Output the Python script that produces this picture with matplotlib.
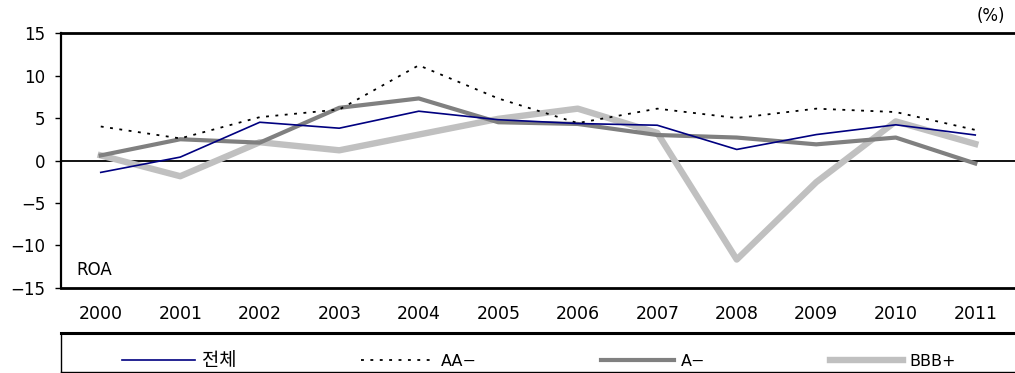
import matplotlib
matplotlib.use("Agg")
import matplotlib.pyplot as plt
from matplotlib.lines import Line2D

plt.rcParams['font.family'] = ['DejaVu Sans', 'Noto Sans CJK KR']
plt.rcParams['axes.unicode_minus'] = True

years = ['2000', '2001', '2002', '2003', '2004', '2005',
         '2006', '2007', '2008', '2009', '2010', '2011']

# ROA by rating group (%)
total = [-1.4, 0.4, 4.5, 3.8, 5.8, 4.8, 4.35, 4.15, 1.3, 3.05, 4.2, 3.0]
aa_minus = [4.0, 2.6, 5.1, 6.0, 11.2, 7.3, 4.4, 6.1, 5.0, 6.1, 5.7, 3.6]
a_minus = [0.6, 2.5, 2.1, 6.2, 7.3, 4.5, 4.3, 3.0, 2.7, 1.9, 2.7, -0.35]
bbb_plus = [0.6, -1.85, 2.15, 1.2, 3.05, 4.9, 6.1, 3.25, -11.65, -2.55, 4.6, 1.95]

yticks = [15, 10, 5, 0, -5, -10, -15]

fig = plt.figure(figsize=(10.15, 3.73), dpi=100)
ax = fig.add_axes([0.0601, 0.2279, 0.9399, 0.6836])

x = range(len(years))
ax.plot(x, bbb_plus, color='#c0c0c0', lw=4.6, label='BBB+', zorder=2)
ax.plot(x, a_minus, color='#808080', lw=3.0, label='A\u2212', zorder=3)
ax.plot(x, aa_minus, color='black', lw=1.3, ls=(0, (1.6, 3.6)), label='AA\u2212', zorder=4)
ax.plot(x, total, color='#000080', lw=1.2, label='전체', zorder=5)

ax.axhline(0, color='black', lw=1.3, zorder=1)

ax.set_xlim(-0.5, len(years) - 0.5)
ax.set_ylim(-15, 15)
ax.set_yticks(yticks)
ax.set_xticks(list(x))
ax.set_xticklabels(years)
ax.tick_params(axis='y', direction='out', length=4.3, width=1.0, pad=7, labelsize=12)
ax.tick_params(axis='x', length=0, pad=12, labelsize=12.5)

for side in ('top', 'bottom'):
    ax.spines[side].set_linewidth(2.0)
ax.spines['left'].set_linewidth(1.6)
ax.spines['right'].set_visible(False)

ax.text(0.016, 0.07, 'ROA', transform=ax.transAxes, fontsize=12,
        ha='left', va='center')
fig.text(0.976, 0.957, '(%)', fontsize=12, ha='center', va='center')

# legend row below the axis, in a box open on the right
handles, labels = ax.get_legend_handles_labels()
order = [3, 2, 1, 0]
leg = fig.legend([handles[i] for i in order], [labels[i] for i in order],
                 loc='center left', bbox_to_anchor=(0.112, 0.034), ncol=4,
                 frameon=False, fontsize=11.5, handlelength=4.6,
                 handletextpad=0.4, columnspacing=7.8, borderpad=0)
leg.get_texts()[0].set_fontsize(13.5)
fig.add_artist(Line2D([0.0601, 1.0], [0.107, 0.107], color='black', lw=2.2,
                      transform=fig.transFigure))
fig.add_artist(Line2D([0.0601, 0.0601], [0.107, 0.0], color='black', lw=1.0,
                      transform=fig.transFigure))
fig.add_artist(Line2D([0.0601, 1.0], [0.003, 0.003], color='black', lw=1.0,
                      transform=fig.transFigure))

fig.savefig('out.png', dpi=100)
